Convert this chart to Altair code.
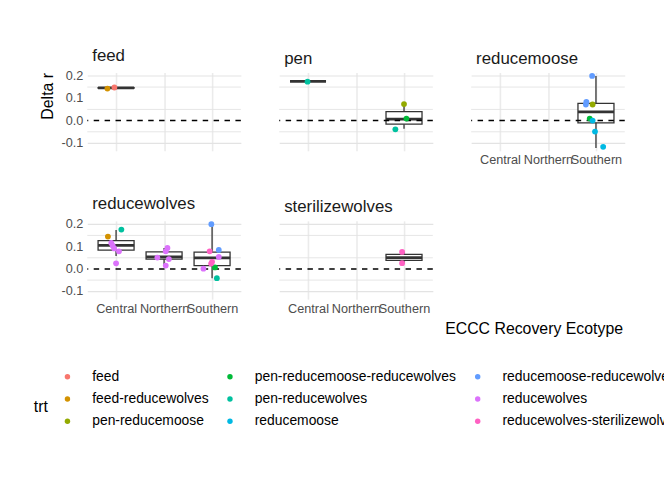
import altair as alt
import pandas as pd

# ---------------- data ----------------
panels = ["feed", "pen", "reducemoose", "reducewolves", "sterilizewolves"]
ecotypes = ["Central", "Northern", "Southern"]
trt_levels = ["feed", "feed-reducewolves", "pen-reducemoose",
              "pen-reducemoose-reducewolves", "pen-reducewolves", "reducemoose",
              "reducemoose-reducewolves", "reducewolves", "reducewolves-sterilizewolves"]
trt_colors = ["#F8766D", "#D39200", "#93AA00", "#00BA38", "#00C19F",
              "#00B9E3", "#619CFF", "#DB72FB", "#FF61C3"]
y_major = [-0.1, 0.0, 0.1, 0.2]
y_labels = ["-0.1", "0.0", "0.1", "0.2"]
y_minor = [-0.05, 0.05, 0.15]

# boxplot summaries
box_panel = ["feed", "pen", "pen", "reducemoose", "reducewolves", "reducewolves",
             "reducewolves", "sterilizewolves"]
box_eco = ["Central", "Central", "Southern", "Southern", "Central", "Northern",
           "Southern", "Southern"]
box_lower = [0.145, 0.175, -0.036, -0.122, 0.058, 0.016, -0.041, 0.026]
box_q1 = [0.145, 0.175, -0.016, -0.010, 0.084, 0.044, 0.015, 0.038]
box_med = [0.146, 0.175, 0.007, 0.039, 0.105, 0.054, 0.050, 0.051]
box_q3 = [0.147, 0.175, 0.040, 0.077, 0.127, 0.076, 0.075, 0.065]
box_upper = [0.148, 0.175, 0.066, 0.200, 0.174, 0.094, 0.200, 0.076]

# jittered points
pt_panel = (["feed"] * 2 + ["pen"] * 4 + ["reducemoose"] * 8 +
            ["reducewolves"] * 21 + ["sterilizewolves"] * 2)
pt_eco = (["Central"] * 2 +
          ["Central"] + ["Southern"] * 3 +
          ["Southern"] * 8 +
          ["Central"] * 7 + ["Northern"] * 5 + ["Southern"] * 9 +
          ["Southern"] * 2)
pt_trt = ["feed-reducewolves", "feed",
          "pen-reducewolves", "pen-reducemoose", "pen-reducemoose-reducewolves", "pen-reducewolves",
          "reducemoose-reducewolves", "reducemoose-reducewolves", "reducemoose-reducewolves",
          "pen-reducemoose", "pen-reducemoose-reducewolves", "reducemoose", "reducemoose", "reducemoose",
          "feed-reducewolves", "pen-reducewolves", "reducewolves", "reducewolves", "reducewolves",
          "reducewolves", "reducewolves",
          "reducewolves", "reducewolves", "reducewolves", "reducewolves", "reducewolves",
          "reducemoose-reducewolves", "reducewolves-sterilizewolves", "reducemoose-reducewolves",
          "reducewolves", "reducewolves-sterilizewolves", "reducewolves",
          "pen-reducemoose-reducewolves", "pen-reducewolves", "reducewolves-sterilizewolves",
          "reducewolves-sterilizewolves", "reducewolves-sterilizewolves"]
pt_value = [0.1435, 0.148,
            0.174, 0.074, 0.009, -0.039,
            0.200, 0.084, 0.072, 0.072, 0.009, 0.000, -0.049, -0.117,
            0.145, 0.176, 0.116, 0.104, 0.092, 0.079, 0.025,
            0.094, 0.079, 0.051, 0.044, 0.015,
            0.200, 0.079, 0.085, 0.054, 0.032, 0.001, 0.007, -0.041, 0.024,
            0.076, 0.026]
pt_jitter = [-0.18, -0.035,
             -0.01, 0.00, 0.05, -0.18,
             -0.08, -0.20, -0.21, -0.07, -0.13, -0.07, -0.02, 0.15,
             -0.17, 0.11, -0.10, -0.07, -0.04, 0.06, 0.00,
             0.07, 0.035, -0.14, 0.10, 0.035,
             -0.015, -0.05, 0.14, 0.14, 0.00, -0.18, 0.06, 0.10, -0.02,
             -0.04, -0.04]

y_title = "Delta r"
x_title = "ECCC Recovery Ecotype"
legend_title = "trt"

# ---------------- tables ----------------
eco_index = {e: i + 1 for i, e in enumerate(ecotypes)}
boxes = pd.DataFrame({"panel": box_panel, "eco": box_eco, "lower": box_lower,
                      "q1": box_q1, "med": box_med, "q3": box_q3, "upper": box_upper})
boxes["xi"] = boxes["eco"].map(eco_index)
points = pd.DataFrame({"panel": pt_panel, "eco": pt_eco, "trt": pt_trt,
                       "value": pt_value, "jit": pt_jitter})
points["xi"] = points["eco"].map(eco_index)
zero = pd.DataFrame({"y": [0.0]})
minor = pd.DataFrame({"y": y_minor})
ylab = pd.DataFrame({"y": y_major, "label": y_labels})

FONT = "Liberation Sans"
W, H = 155, 79
XDOM = [0.4, 3.6]
YDOM = [-0.135, 0.215]
GRID = "#E3E3E3"

label_x_expr = "datum.value == 1 ? 'Central' : datum.value == 2 ? 'Northern' : datum.value == 3 ? 'Southern' : ''"


def panel(name, ylabels, xlabels, ytitle, legend):
    xaxis = alt.Axis(values=[1, 2, 3], labelExpr=label_x_expr, labels=xlabels,
                     ticks=False, domain=False, title=None, gridColor="#EBEBEB",
                     gridWidth=1.6, labelFont=FONT, labelFontSize=12.8,
                     labelColor="#4D4D4D", labelOverlap=False, labelFlush=False,
                     labelPadding=3)
    yaxis = alt.Axis(values=y_major, labels=False, ticks=False, domain=False,
                     gridColor=GRID, gridWidth=1.2, title=None)
    xs = alt.Scale(domain=XDOM, nice=False, zero=False)
    ys = alt.Scale(domain=YDOM, nice=False, zero=False)

    mgrid = alt.Chart(minor).mark_rule(color=GRID, strokeWidth=0.9).encode(
        y=alt.Y("y:Q", scale=ys, axis=yaxis))
    b = alt.Chart(boxes).transform_filter(alt.datum.panel == name).transform_calculate(
        xl="datum.xi - 0.375", xr="datum.xi + 0.375")
    whisk = b.mark_rule(color="#333333", strokeWidth=1.3).encode(
        x=alt.X("xi:Q", scale=xs, axis=xaxis), y="lower:Q", y2="upper:Q")
    box = b.mark_rect(fill="white", stroke="#333333", strokeWidth=1.3).encode(
        x="xl:Q", x2="xr:Q", y="q1:Q", y2="q3:Q")
    med = b.mark_rule(color="#333333", strokeWidth=2.8).encode(
        x="xl:Q", x2="xr:Q", y="med:Q")
    hline = alt.Chart(zero).mark_rule(color="black", strokeWidth=1.5,
                                      strokeDash=[5.5, 5.5]).encode(y="y:Q")
    color_kw = dict(scale=alt.Scale(domain=trt_levels, range=trt_colors))
    if legend:
        color_kw["legend"] = alt.Legend(
            title=legend_title, orient="none", legendX=-54, legendY=300, columns=3,
            direction="vertical",
            titleOrient="left", titleFont=FONT, titleFontSize=16,
            titleFontWeight="normal", titleColor="#000000", titleBaseline="top",
            titleAnchor="middle", titlePadding=12,
            labelFont=FONT, labelFontSize=14, labelColor="#000000",
            symbolType="circle", symbolSize=30, symbolStrokeWidth=0,
            labelOffset=18, rowPadding=8.5, columnPadding=14, labelLimit=400)
    else:
        color_kw["legend"] = None
    pts = alt.Chart(points).transform_filter(alt.datum.panel == name).transform_calculate(
        xj="datum.xi + datum.jit").mark_circle(size=34, opacity=1).encode(
        x="xj:Q", y="value:Q", color=alt.Color("trt:N", **color_kw))
    layers = [mgrid, whisk, box, med, hline, pts]
    if ylabels:
        layers.append(alt.Chart(ylab).mark_text(
            align="right", baseline="middle", font=FONT, fontSize=12.8,
            color="#4D4D4D").encode(x=alt.value(-4), y="y:Q", text="label:N"))
    if ytitle:
        layers.append(alt.Chart(zero).mark_text(
            text=y_title, angle=270, align="center", baseline="middle", font=FONT,
            fontSize=16, color="#000000").encode(x=alt.value(-40), y=alt.value(24)))
    return alt.layer(*layers).properties(
        width=W, height=H,
        title=alt.TitleParams(text=name, anchor="start", frame="group", fontSize=17,
                              font=FONT, fontWeight="normal", color="#1A1A1A",
                              dx=5, offset=5))


empty = alt.Chart(zero).mark_point(opacity=0).encode(
    x=alt.X("y:Q", scale=alt.Scale(domain=XDOM),
            axis=alt.Axis(title=x_title, labels=False, ticks=False, domain=False,
                          grid=False, titleFont=FONT, titleFontSize=16,
                          titleFontWeight="normal", titleColor="#000000",
                          titleX=63, titleY=30, titleBaseline="middle")),
    y=alt.Y("y:Q", axis=None)).properties(width=W, height=H)

PL, PT = 80, 63
chart = alt.concat(
    panel("feed", True, False, True, True),
    panel("pen", False, False, False, False),
    panel("reducemoose", False, True, False, False),
    panel("reducewolves", True, True, False, False),
    panel("sterilizewolves", False, True, False, False),
    empty,
    columns=3, bounds="flush", spacing={"row": 70.7, "column": 38.7}
).properties(
    autosize=alt.AutoSizeParams(type="none"),
    padding={"left": PL, "top": PT, "right": 662 - PL, "bottom": 462 - PT}
).configure(font=FONT).configure_view(strokeWidth=0, strokeOpacity=0)

chart.save("out.html", embed_options={"renderer": "svg", "actions": False})
